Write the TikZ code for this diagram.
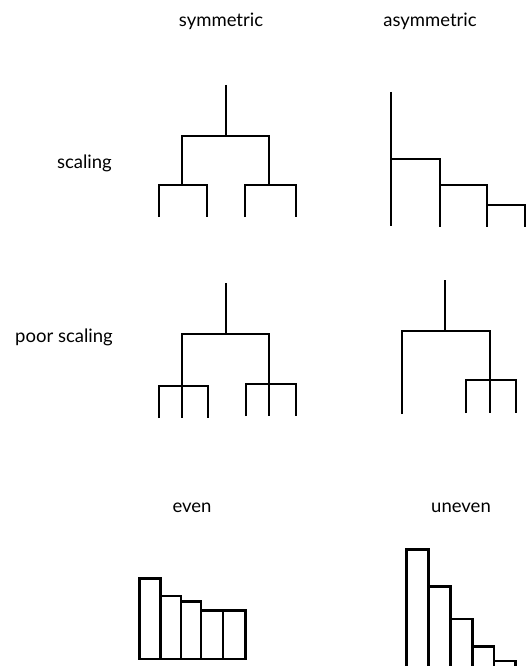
\documentclass[tikz,border=0pt]{standalone}
\usepackage{fontspec}
\setmainfont{Lato}
\begin{document}
\begin{tikzpicture}[x=1pt,y=-1pt,
  br/.style={line width=2.8pt,line cap=butt,line join=miter},
  lbl/.style={font=\fontsize{18.5}{20}\selectfont,inner sep=0pt},
  bar/.style={draw,line width=2.8pt,line join=miter}]
\useasboundingbox (0,0) rectangle (527,666);
% column labels
\node[lbl,anchor=base] (lsym) at (221,27) {symmetric};
\node[lbl,anchor=base] (lasym) at (430,27) {asymmetric};
\node[lbl,anchor=base east] (lsc) at (112,168) {scaling};
\node[lbl,anchor=base east] (lpsc) at (113,342) {poor scaling};
\node[lbl,anchor=base] (leven) at (192,512) {even};
\node[lbl,anchor=base] (luneven) at (461,512) {uneven};
% symmetric scaling
\draw[br] (226,85) -- (226,136);
\draw[br] (182,185) -- (182,136) -- (269,136) -- (269,185);
\draw[br] (159,217) -- (159,185) -- (207,185) -- (207,217);
\draw[br] (245,217) -- (245,185) -- (296,185) -- (296,217);
% asymmetric scaling
\draw[br] (391,92) -- (391,226);
\draw[br] (391,159) -- (440,159) -- (440,227);
\draw[br] (440,185) -- (487,185) -- (487,227);
\draw[br] (487,205) -- (525,205) -- (525,227);
% symmetric poor scaling
\draw[br] (226,283) -- (226,334);
\draw[br] (182,386) -- (182,334) -- (269,334) -- (269,384);
\draw[br] (159,418) -- (159,386) -- (208,386) -- (208,418);
\draw[br] (182,386) -- (182,418);
\draw[br] (246,416) -- (246,384) -- (296,384) -- (296,416);
\draw[br] (269,384) -- (269,416);
% asymmetric poor scaling
\draw[br] (445,280) -- (445,331);
\draw[br] (402,414) -- (402,331) -- (490,331) -- (490,413);
\draw[br] (466,413) -- (466,380) -- (516,380) -- (516,413);
% even bars
\draw[bar] (139.5,578.5) rectangle (160.5,659);
\draw[bar] (160.5,596) rectangle (181,659);
\draw[bar] (181,601.5) rectangle (201,659);
\draw[bar] (201,610.5) rectangle (223,659);
\draw[bar] (223,610.5) rectangle (245.5,659);
% uneven bars
\begin{scope}
\clip (0,0) rectangle (527,666);
\draw[bar] (406.5,549.5) rectangle (428.5,672);
\draw[bar] (428.5,586.5) rectangle (450.5,672);
\draw[bar] (450.5,619) rectangle (472.5,672);
\draw[bar] (472.5,646.5) rectangle (494,672);
\draw[bar] (494,661) rectangle (515.5,672);
\end{scope}
\end{tikzpicture}
\end{document}
